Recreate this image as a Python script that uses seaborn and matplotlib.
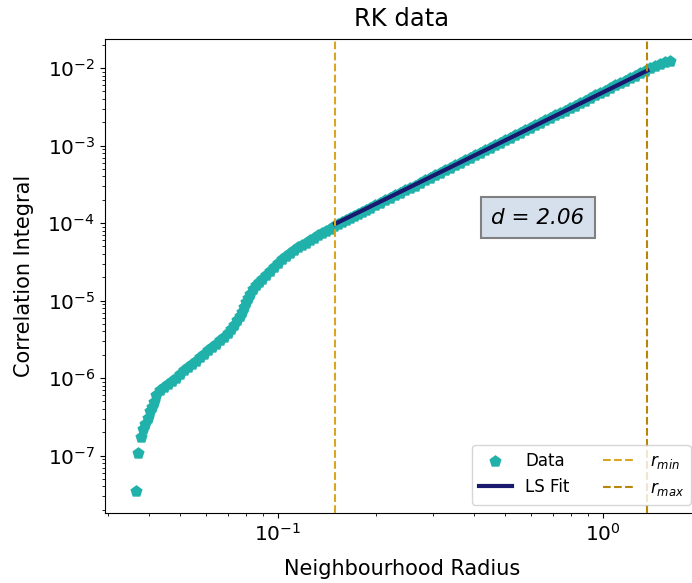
import numpy as np
import pandas as pd
import matplotlib
matplotlib.use("Agg")
import matplotlib.pyplot as plt
import seaborn as sns

# Correlation sum C(r) for the RK trajectory (stored as log10 values)
log_radius = [
    -1.437, -1.431, -1.422, -1.415, -1.409, -1.400, -1.394, -1.388, -1.382,
    -1.375, -1.363, -1.351, -1.338, -1.326, -1.314, -1.302, -1.289, -1.277,
    -1.265, -1.252, -1.240, -1.228, -1.215, -1.203, -1.191, -1.178, -1.166,
    -1.154, -1.145, -1.135, -1.126, -1.117, -1.111, -1.105, -1.098, -1.092,
    -1.086, -1.077, -1.068, -1.058, -1.049, -1.037, -1.025, -1.012, -1.000,
    -0.988, -0.975, -0.963, -0.951, -0.938, -0.926, -0.914, -0.902, -0.889,
    -0.877, -0.865, -0.852, -0.840, -0.828, -0.815, -0.803, -0.791, -0.778,
    -0.766, -0.754, -0.742, -0.729, -0.717, -0.702, -0.686, -0.671, -0.655,
    -0.640, -0.625, -0.609, -0.594, -0.578, -0.563, -0.548, -0.532, -0.517,
    -0.502, -0.486, -0.471, -0.455, -0.440, -0.425, -0.409, -0.394, -0.378,
    -0.363, -0.348, -0.332, -0.317, -0.302, -0.286, -0.271, -0.255, -0.240,
    -0.225, -0.209, -0.194, -0.178, -0.163, -0.148, -0.132, -0.117, -0.102,
    -0.086, -0.071, -0.055, -0.040, -0.025, -0.009, 0.006, 0.022, 0.037,
    0.052, 0.068, 0.083, 0.098, 0.114, 0.129, 0.145, 0.160, 0.175, 0.191,
    0.206,
]
log_corr = [
    -7.464, -6.974, -6.755, -6.652, -6.588, -6.510, -6.420, -6.369, -6.304,
    -6.214, -6.149, -6.111, -6.072, -6.034, -5.995, -5.943, -5.892, -5.853,
    -5.814, -5.776, -5.724, -5.686, -5.634, -5.595, -5.557, -5.505, -5.466,
    -5.415, -5.363, -5.312, -5.247, -5.196, -5.144, -5.080, -5.015, -4.964,
    -4.912, -4.848, -4.796, -4.758, -4.719, -4.668, -4.616, -4.564, -4.513,
    -4.461, -4.423, -4.384, -4.345, -4.307, -4.281, -4.255, -4.216, -4.191,
    -4.152, -4.126, -4.101, -4.075, -4.036, -4.012, -3.988, -3.963, -3.938,
    -3.912, -3.886, -3.860, -3.833, -3.806, -3.768, -3.741, -3.703, -3.676,
    -3.638, -3.611, -3.579, -3.548, -3.517, -3.483, -3.451, -3.418, -3.386,
    -3.352, -3.319, -3.286, -3.253, -3.221, -3.189, -3.157, -3.125, -3.093,
    -3.061, -3.029, -2.997, -2.965, -2.933, -2.901, -2.869, -2.837, -2.805,
    -2.773, -2.741, -2.709, -2.676, -2.644, -2.612, -2.580, -2.548, -2.516,
    -2.484, -2.451, -2.419, -2.387, -2.354, -2.322, -2.290, -2.258, -2.225,
    -2.193, -2.161, -2.129, -2.097, -2.064, -2.032, -2.004, -1.977, -1.951,
    -1.927, -1.903,
]

# Scaling region and least-squares fit
r_min = 0.15
r_max = 1.37
dimension = 2.06
fit_log_intercept = -2.313

radius = 10 ** np.array(log_radius)
corr = 10 ** np.array(log_corr)
data = pd.DataFrame({"radius": radius, "corr": corr})

in_range = data[(data["radius"] >= r_min) & (data["radius"] <= r_max)]
fit_r = np.concatenate([[r_min], in_range["radius"].to_numpy(), [r_max]])
fit = pd.DataFrame({
    "radius": fit_r,
    "corr": 10 ** (fit_log_intercept + dimension * np.log10(fit_r)),
})

fig = plt.figure(figsize=(6.92, 5.83), dpi=100)
ax = fig.add_axes([105 / 692, 70 / 583, 594 / 692, 474 / 583])

sns.scatterplot(data=data, x="radius", y="corr", ax=ax, marker="p", s=85,
                color="#20B2AA", linewidth=0, label="Data", zorder=2)
sns.lineplot(data=fit, x="radius", y="corr", ax=ax, color="#191970",
             linewidth=3, label="LS Fit", zorder=3)
ax.set_xscale("log")
ax.set_yscale("log")

ax.axvline(r_min, color="#DAA520", linestyle="--", linewidth=1.5,
           label=r"$r_{min}$", zorder=4)
ax.axvline(r_max, color="#B8860B", linestyle="--", linewidth=1.5,
           label=r"$r_{max}$", zorder=4)

ax.set_xlim(10 ** -1.532, 10 ** 0.2954)
ax.margins(y=0.05)

ax.set_title("RK data", fontsize=17.5, pad=9)
ax.set_xlabel("Neighbourhood Radius", fontsize=15, labelpad=10)
ax.set_ylabel("Correlation Integral", fontsize=15, labelpad=10)
ax.tick_params(axis="both", which="major", labelsize=14.5)

ax.text(0.729, 0.623, f"d = {dimension:.2f}", transform=ax.transAxes,
        fontsize=15.5, style="italic", ha="center", va="center",
        bbox=dict(boxstyle="square,pad=0.5", facecolor="#D6E0EC",
                  edgecolor="#808080", linewidth=1.5))

handles, labels = ax.get_legend_handles_labels()
order = [labels.index(l) for l in ["Data", "LS Fit", r"$r_{min}$", r"$r_{max}$"]]
ax.legend([handles[i] for i in order], [labels[i] for i in order],
          loc="lower right", ncol=2, fontsize=12)

fig.savefig("out.png", dpi=100)
